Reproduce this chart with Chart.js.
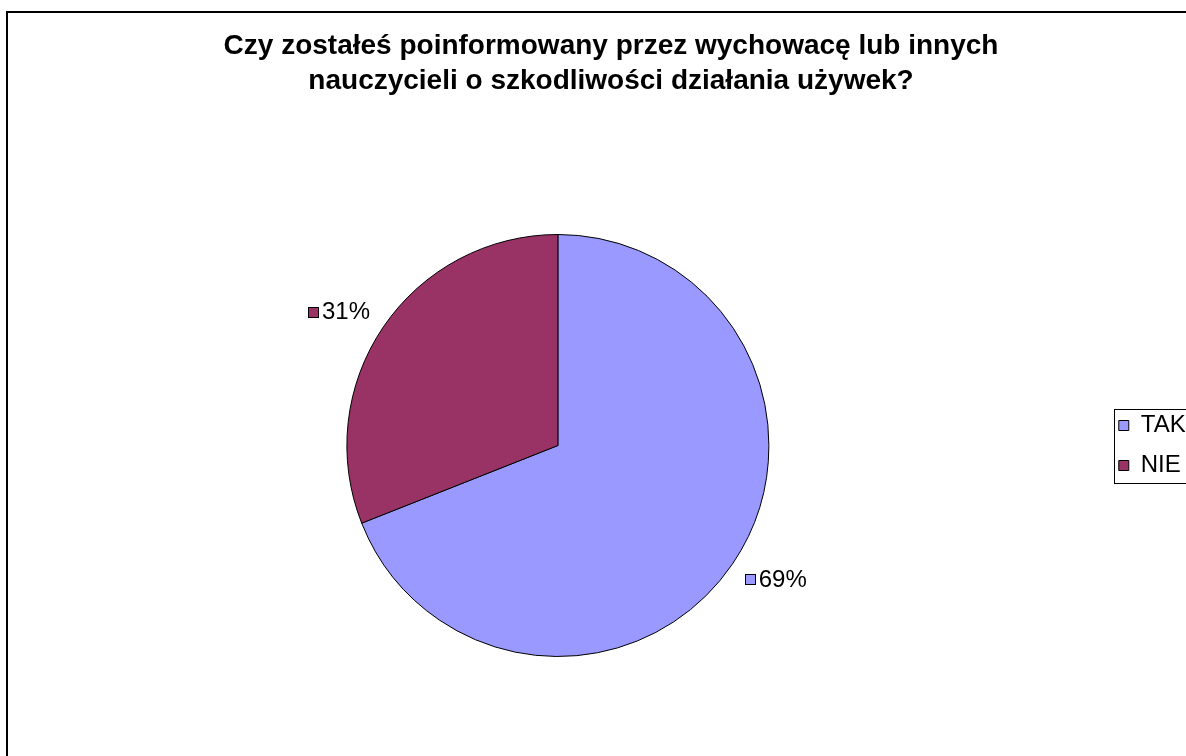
<!DOCTYPE html>
<html>
<head>
<meta charset="utf-8">
<script src="https://cdn.jsdelivr.net/npm/chart.js@4.4.9/dist/chart.umd.min.js"></script>
<style>
    html, body { margin: 0; padding: 0; background: #fff; overflow: hidden; }
    canvas { display: block; }
</style>
</head>
<body>
<canvas id="pie-chart" width="1240" height="756"></canvas>
<script>
const categories = ['TAK', 'NIE'];
const shares = [69, 31];
const sliceColors = ['#9999FF', '#993366'];
const titleLines = [
    'Czy zostałeś poinformowany przez wychowacę lub innych',
    'nauczycieli o szkodliwości działania używek?'
];

const FONT = '"Liberation Sans", Arial, sans-serif';

// frame around the whole chart (cut off on the right/bottom like the source)
const framePlugin = {
    id: 'frame',
    beforeDraw(chart) {
        const ctx = chart.ctx;
        ctx.save();
        ctx.strokeStyle = '#000';
        ctx.lineWidth = 2;
        ctx.strokeRect(7, 12, 1400, 1000);
        ctx.restore();
    }
};

// border around the legend
const legendBoxPlugin = {
    id: 'legendBox',
    afterDraw(chart) {
        const lg = chart.legend;
        if (!lg || !lg.legendHitBoxes.length) return;
        const boxes = lg.legendHitBoxes;
        const first = boxes[0];
        const last = boxes[boxes.length - 1];
        const ctx = chart.ctx;
        ctx.save();
        ctx.strokeStyle = '#000';
        ctx.lineWidth = 1;
        const x = Math.round(lg.left + 11) + 0.5;
        const y = Math.round(first.top - 5) + 0.5;
        const h = Math.round(last.top + last.height + 5) - Math.round(first.top - 5);
        ctx.strokeRect(x, y, 200, h);
        ctx.restore();
    }
};

// percent labels with a small colour key, placed outside each slice
const sliceLabelPlugin = {
    id: 'sliceLabels',
    afterDatasetsDraw(chart) {
        const ctx = chart.ctx;
        const meta = chart.getDatasetMeta(0);
        const values = chart.data.datasets[0].data;
        const total = values.reduce((a, b) => a + b, 0);
        ctx.save();
        ctx.font = '24px ' + FONT;
        ctx.textBaseline = 'middle';
        ctx.textAlign = 'left';
        meta.data.forEach((arc, i) => {
            const { x, y, startAngle, endAngle, outerRadius } =
                arc.getProps(['x', 'y', 'startAngle', 'endAngle', 'outerRadius'], true);
            const mid = (startAngle + endAngle) / 2;
            const ax = x + Math.cos(mid) * (outerRadius + 27);
            const ay = y + Math.sin(mid) * (outerRadius + 27);
            const text = Math.round(values[i] / total * 100) + '%';
            const tw = ctx.measureText(text).width;
            const w = 14 + tw;
            const left = Math.cos(mid) < 0 ? ax + 9 - w : ax - 10;
            const bx = Math.round(left) + 0.5;
            const by = Math.round(ay - 5) + 0.5;
            ctx.fillStyle = sliceColors[i];
            ctx.fillRect(bx, by, 10, 10);
            ctx.strokeStyle = '#000';
            ctx.lineWidth = 1;
            ctx.strokeRect(bx, by, 10, 10);
            ctx.fillStyle = '#000';
            ctx.fillText(text, left + 14, ay + 1);
        });
        ctx.restore();
    }
};

const ctx = document.getElementById('pie-chart').getContext('2d');

new Chart(ctx, {
    type: 'pie',
    data: {
        labels: categories,
        datasets: [{
            data: shares,
            backgroundColor: sliceColors,
            borderColor: '#000',
            borderWidth: 1,
            radius: 211
        }]
    },
    options: {
        responsive: false,
        animation: false,
        devicePixelRatio: 1,
        layout: {
            padding: { left: 13, right: 31, top: 20, bottom: 0 }
        },
        plugins: {
            title: {
                display: true,
                text: titleLines,
                color: '#000',
                font: { family: FONT, size: 28, weight: 'bold', lineHeight: 1.25 },
                padding: { top: 9, bottom: 36 }
            },
            legend: {
                position: 'right',
                fullSize: false,
                labels: {
                    color: '#000',
                    boxWidth: 10,
                    boxHeight: 10,
                    padding: 16,
                    font: { family: FONT, size: 24 },
                    generateLabels(chart) {
                        const items = Chart.overrides.pie.plugins.legend.labels.generateLabels(chart);
                        // trailing spaces widen the legend column like the source
                        items.forEach(it => {
                            it.text += '\u00a0\u00a0';
                            it.strokeStyle = '#000';
                            it.lineWidth = 1;
                        });
                        return items;
                    }
                }
            },
            tooltip: { enabled: false }
        }
    },
    plugins: [framePlugin, sliceLabelPlugin, legendBoxPlugin]
});
</script>
</body>
</html>
